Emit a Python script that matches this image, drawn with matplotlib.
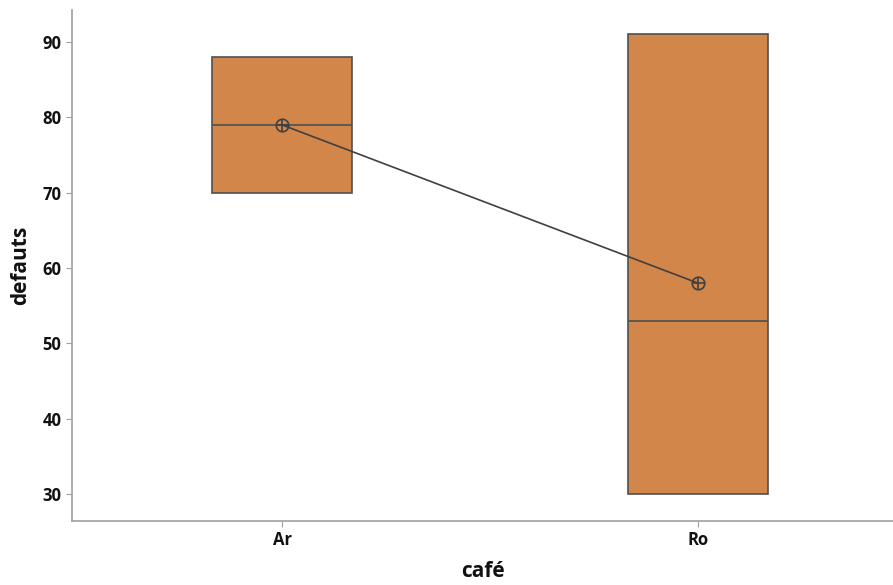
import matplotlib.pyplot as plt

plt.rcParams["font.family"] = ["Open Sans", "DejaVu Sans"]

cafes = ["Ar", "Ro"]
q1 = [70, 30]
medians = [79, 53]
q3 = [88, 91]
means = [79, 58]

stats = []
for name, lo, med, hi, mu in zip(cafes, q1, medians, q3, means):
    stats.append({"label": name, "q1": lo, "med": med, "q3": hi, "mean": mu,
                  "whislo": lo, "whishi": hi, "fliers": []})

fig = plt.figure(figsize=(8.93, 5.85), dpi=100)
ax = fig.add_axes([72 / 893, 64 / 585, 821 / 893, 511 / 585])

pos = list(range(len(cafes)))
edge = "#505050"
ax.bxp(stats, positions=pos, widths=0.337, patch_artist=True, showcaps=False,
       boxprops=dict(facecolor="#D3864A", edgecolor=edge, linewidth=1.2),
       medianprops=dict(color=edge, linewidth=1.2),
       whiskerprops=dict(color=edge, linewidth=1.2))

ax.plot(pos, means, color="#404040", linewidth=1.2, zorder=4)
ax.plot(pos, means, linestyle="none", marker="o", markersize=9, markerfacecolor="none",
        markeredgecolor="#404040", markeredgewidth=1.2, zorder=5)
ax.plot(pos, means, linestyle="none", marker="+", markersize=9,
        markeredgecolor="#404040", markeredgewidth=1.2, zorder=5)

ax.set_xlim(-0.505, 1.469)
ax.set_ylim(26.42, 94.25)
ax.set_yticks([30, 40, 50, 60, 70, 80, 90])
ax.set_xticks(pos)
ax.set_xticklabels(cafes)

for s in ["top", "right"]:
    ax.spines[s].set_visible(False)
for s in ["left", "bottom"]:
    ax.spines[s].set_color("#A0A0A0")
    ax.spines[s].set_linewidth(1.2)
ax.tick_params(axis="both", colors="#A0A0A0", length=4, labelcolor="#111111",
               labelsize=12)
for lbl in ax.get_xticklabels() + ax.get_yticklabels():
    lbl.set_fontweight("bold")

ax.set_xlabel("café", fontsize=15, fontweight="bold", color="#111111", labelpad=8)
ax.set_ylabel("defauts", fontsize=15, fontweight="bold", color="#111111", labelpad=8)

fig.savefig("out.png", dpi=100)
